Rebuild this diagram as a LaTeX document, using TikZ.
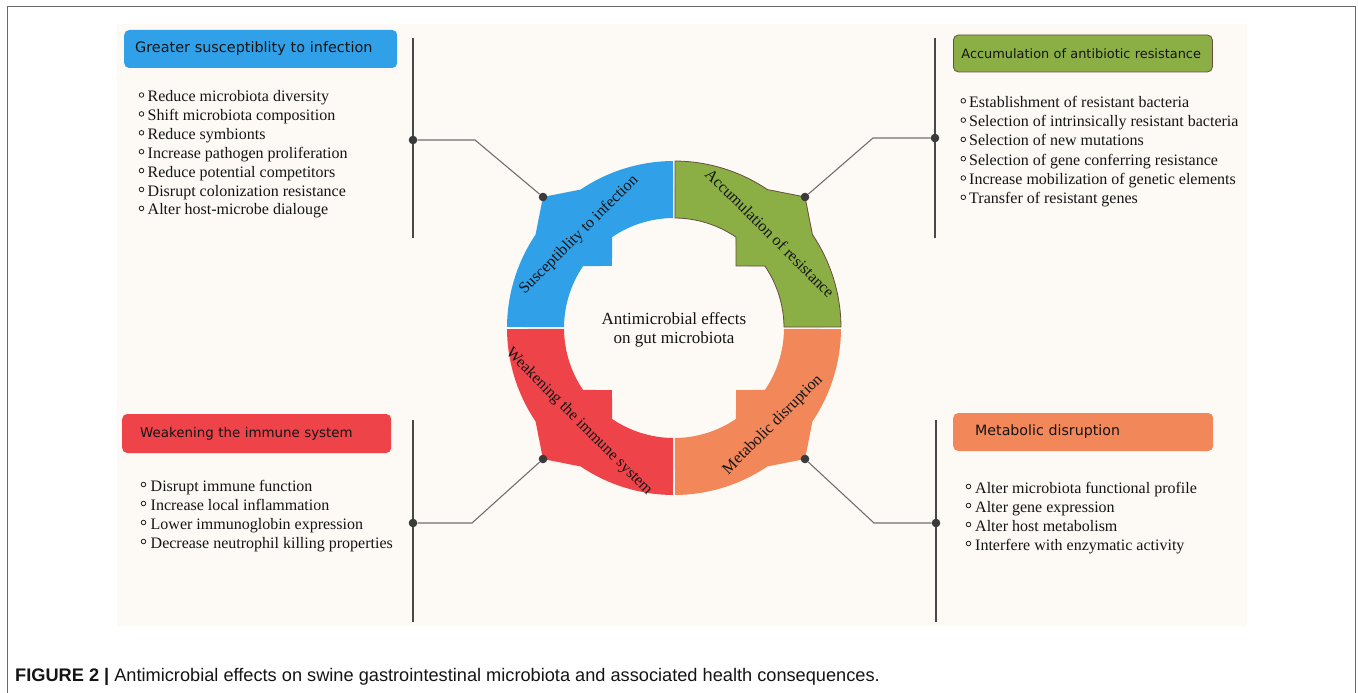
\documentclass[tikz,border=0pt]{standalone}
\usepackage{fontspec}
\setmainfont{Liberation Serif}
\newfontfamily\boxfont{DejaVu Sans}
\newfontfamily\capfont{Liberation Sans}

\definecolor{panel}{RGB}{253,250,246}
\definecolor{segblue}{RGB}{48,160,232}
\definecolor{seggreen}{RGB}{139,175,69}
\definecolor{segred}{RGB}{239,67,74}
\definecolor{segorange}{RGB}{242,135,90}
\definecolor{greenedge}{RGB}{105,75,65}
\definecolor{framegray}{RGB}{105,105,105}
\definecolor{stemgray}{RGB}{72,72,72}
\definecolor{linkgray}{RGB}{112,112,112}
\definecolor{dotgray}{RGB}{58,58,58}
\definecolor{ink}{RGB}{20,20,20}

\tikzset{
  titlebox/.style={rounded corners=5pt, anchor=west, align=left,
    minimum height=38pt, inner ysep=0pt, text=ink},
  itemtext/.style={anchor=base west, inner sep=0pt, text=ink,
    font=\fontsize{16}{19}\selectfont},
  bulletmark/.style={draw=ink, line width=0.75pt},
  stem/.style={draw=stemgray, line width=1.5pt},
  link/.style={draw=linkgray, line width=1.1pt},
  joint/.style={circle, fill=dotgray, inner sep=0pt, minimum size=8.6pt},
  ringlabel/.style={text=ink, inner sep=0pt, font=\fontsize{16}{19}\selectfont},
}

\begin{document}
\begin{tikzpicture}[x=1pt, y=1pt]
\useasboundingbox (0,0) rectangle (1358,-693);

% page frame and diagram panel
\draw[framegray, line width=1.5pt] (7.5,-693) -- (7.5,-6.5) -- (1355.5,-6.5) -- (1355.5,-693);
\fill[panel] (117,-24) rectangle (1247,-626);

% ring of four segments, each with an outer and an inner square bump
\begin{scope}[shift={(674,-328)}]
  \foreach \a/\c in {90/segblue, 180/segred, 270/segorange}{
    \fill[\c] ({\a+0.35}:167) arc[start angle={\a+0.35}, end angle={\a+34}, radius=167]
      -- ({\a+45}:185.3) -- ({\a+56}:167)
      arc[start angle={\a+56}, end angle={\a+89.65}, radius=167]
      -- ({\a+89.5}:110)
      arc[start angle={\a+89.5}, end angle={\a+55.7}, radius=110]
      -- ({\a+45}:87.7) -- ({\a+34.3}:110)
      arc[start angle={\a+34.3}, end angle={\a+0.5}, radius=110] -- cycle;
  }
  \filldraw[fill=seggreen, draw=greenedge, line width=0.8pt]
      (0.35:167) arc[start angle=0.35, end angle=34, radius=167]
      -- (45:185.3) -- (56:167)
      arc[start angle=56, end angle=89.65, radius=167]
      -- (89.5:110)
      arc[start angle=89.5, end angle=55.7, radius=110]
      -- (45:87.7) -- (34.3:110)
      arc[start angle=34.3, end angle=0.5, radius=110] -- cycle;
\end{scope}

% segment labels
\node[ringlabel, rotate=45]  (lb1) at (579,-235) {Susceptiblity to infection};
\node[ringlabel, rotate=-45] (lb2) at (770,-233) {Accumulation of resistance};
\node[ringlabel, rotate=-45] (lb3) at (579,-422) {Weakening the immune system};
\node[ringlabel, rotate=45]  (lb4) at (773,-425) {Metabolic disruption};

% centre title
\node[text=ink, align=center, inner sep=0pt, font=\fontsize{17}{19.5}\selectfont]
  (hub) at (674,-330) {Antimicrobial effects\\on gut microbiota};

% headline boxes
\node[titlebox, fill=segblue, text width=251pt, inner xsep=11pt,
      font=\boxfont\fontsize{14.4}{16}\selectfont] (t1) at (124,-49)
      {\mbox{Greater susceptiblity to infection}};
\node[titlebox, fill=seggreen, draw=greenedge, line width=0.8pt, minimum height=37pt,
      text width=243pt, inner xsep=8pt, font=\boxfont\fontsize{12.9}{16}\selectfont]
      (t2) at (953,-53.5) {\mbox{Accumulation of antibiotic resistance}};
\node[titlebox, fill=segred, minimum height=39pt, text width=233pt, inner xsep=18pt,
      font=\boxfont\fontsize{13.4}{16}\selectfont] (t3) at (122,-433.5)
      {\mbox{Weakening the immune system}};
\node[titlebox, fill=segorange, text width=216pt, inner xsep=22pt,
      font=\boxfont\fontsize{14.2}{16}\selectfont] (t4) at (953,-432)
      {\mbox{Metabolic disruption}};

% bullet lists
\foreach \t [count=\i] in {Reduce microbiota diversity, Shift microbiota composition,
    Reduce symbionts, Increase pathogen proliferation, Reduce potential competitors,
    Disrupt colonization resistance, Alter host-microbe dialouge}{
  \node[itemtext] (pa\i) at (147.5,{-101.5-(\i-1)*18.9}) {\t};
  \draw[bulletmark] (141.5,{-95-(\i-1)*18.9}) circle (2.3);
}
\foreach \t [count=\i] in {Establishment of resistant bacteria,
    Selection of intrinsically resistant bacteria, Selection of new mutations,
    Selection of gene conferring resistance, Increase mobilization of genetic elements,
    Transfer of resistant genes}{
  \node[itemtext] (pb\i) at (969,{-107.3-(\i-1)*19.3}) {\t};
  \draw[bulletmark] (963.3,{-100.8-(\i-1)*19.3}) circle (2.3);
}
\foreach \t [count=\i] in {Disrupt immune function, Increase local inflammation,
    Lower immunoglobin expression, Decrease neutrophil killing properties}{
  \node[itemtext] (pc\i) at (150.5,{-491-(\i-1)*19}) {\t};
  \draw[bulletmark] (143.5,{-484.5-(\i-1)*19}) circle (2.3);
}
\foreach \t [count=\i] in {Alter microbiota functional profile, Alter gene expression,
    Alter host metabolism, Interfere with enzymatic activity}{
  \node[itemtext] (pd\i) at (975,{-493-(\i-1)*19}) {\t};
  \draw[bulletmark] (968.5,{-486.5-(\i-1)*19}) circle (2.3);
}

% stems with joints
\coordinate (s1t) at (413,-38);  \coordinate (s1b) at (413,-238);
\coordinate (s2t) at (935,-38);  \coordinate (s2b) at (935,-238);
\coordinate (s3t) at (413,-420); \coordinate (s3b) at (413,-622);
\coordinate (s4t) at (936,-420); \coordinate (s4b) at (936,-622);
\draw[stem] (s1t) -- (s1b);
\draw[stem] (s2t) -- (s2b);
\draw[stem] (s3t) -- (s3b);
\draw[stem] (s4t) -- (s4b);

\node[joint] (j1) at (413,-140) {};
\node[joint] (j2) at (935,-138) {};
\node[joint] (j3) at (413,-523) {};
\node[joint] (j4) at (936,-523) {};

\node[joint] (r1) at (543,-197) {};
\node[joint] (r2) at (805,-197) {};
\node[joint] (r3) at (543,-459) {};
\node[joint] (r4) at (805,-459) {};

\coordinate (k1) at (475,-140);
\coordinate (k2) at (873,-138);
\coordinate (k3) at (472,-523);
\coordinate (k4) at (874,-523);

\draw[link] (j1) -- (k1) -- (r1);
\draw[link] (j2) -- (k2) -- (r2);
\draw[link] (j3) -- (k3) -- (r3);
\draw[link] (j4) -- (k4) -- (r4);

% caption
\node[anchor=base west, inner sep=0pt, text=ink, font=\capfont\fontsize{18.2}{21}\selectfont]
  (cap) at (15,-681) {\textbf{FIGURE 2 \textbar} Antimicrobial effects on swine gastrointestinal microbiota and associated health consequences.};
\end{tikzpicture}
\end{document}
